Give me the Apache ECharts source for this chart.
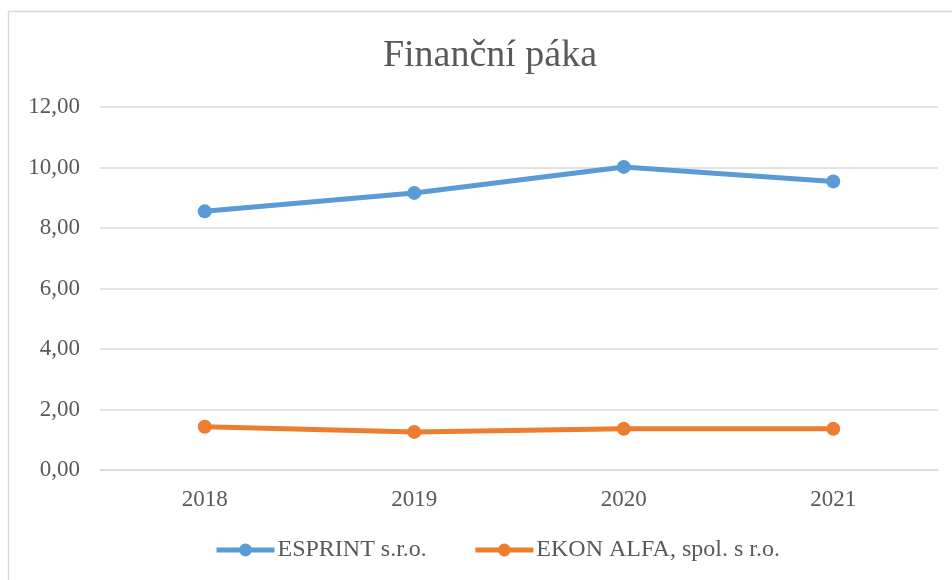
<!DOCTYPE html>
<html>
<head>
<meta charset="utf-8">
<script src="https://cdn.jsdelivr.net/npm/echarts@6/dist/echarts.min.js"></script>
<style>
  html, body { margin: 0; padding: 0; background: #fff; }
  #chart { width: 952px; height: 580px; }
</style>
</head>
<body>
<div id="chart"></div>
<script>
// roky
var years = ['2018', '2019', '2020', '2021'];
// finanční páka
var esprint = [8.55, 9.16, 10.02, 9.54];
var ekon = [1.43, 1.26, 1.36, 1.36];
var yTicks = { min: 0, max: 12, interval: 2 };

var serif = 'Liberation Serif';
var grey = '#595959';

var myChart = echarts.init(document.getElementById('chart'));
var option = {
    backgroundColor: '#fff',
    animation: false,
    textStyle: { fontFamily: serif },
    title: {
        text: 'Finanční páka',
        left: 485,
        textAlign: 'center',
        top: 32,
        textStyle: { fontFamily: serif, fontSize: 38, fontWeight: 'normal', color: grey }
    },
    // rámeček grafu
    graphic: [{
        type: 'rect',
        shape: { x: 8.5, y: 11.5, width: 960, height: 600 },
        style: { fill: 'none', stroke: '#d9d9d9', lineWidth: 1.5 },
        silent: true
    }],
    legend: {
        orient: 'horizontal',
        bottom: 13,
        left: 209,
        itemWidth: 58,
        itemHeight: 16,
        itemGap: 46,
        lineStyle: { width: 5 },
        textStyle: { fontFamily: serif, fontSize: 24, color: grey, padding: [0, 0, 0, -2] },
        data: ['ESPRINT s.r.o.', 'EKON ALFA, spol. s r.o.']
    },
    grid: { left: 100, right: 14, top: 107, bottom: 110 },
    xAxis: {
        type: 'category',
        data: years,
        boundaryGap: true,
        axisLine: { lineStyle: { color: '#d9d9d9', width: 1.5 } },
        axisTick: { show: false },
        axisLabel: { fontFamily: serif, fontSize: 23, color: grey, margin: 18 }
    },
    yAxis: {
        type: 'value',
        min: yTicks.min,
        max: yTicks.max,
        interval: yTicks.interval,
        axisLine: { show: false },
        axisTick: { show: false },
        splitLine: { lineStyle: { color: '#d9d9d9', width: 1.5 } },
        axisLabel: {
            fontFamily: serif, fontSize: 23, color: grey, margin: 20,
            formatter: function (v) { return v.toFixed(2).replace('.', ','); }
        }
    },
    series: [{
        name: 'ESPRINT s.r.o.',
        type: 'line',
        data: esprint,
        symbol: 'circle',
        symbolSize: 14,
        lineStyle: { width: 5, color: '#5b9bd5' },
        itemStyle: { color: '#5b9bd5' }
    }, {
        name: 'EKON ALFA, spol. s r.o.',
        type: 'line',
        data: ekon,
        symbol: 'circle',
        symbolSize: 14,
        lineStyle: { width: 5, color: '#ed7d31' },
        itemStyle: { color: '#ed7d31' }
    }]
};
myChart.setOption(option);
</script>
</body>
</html>
